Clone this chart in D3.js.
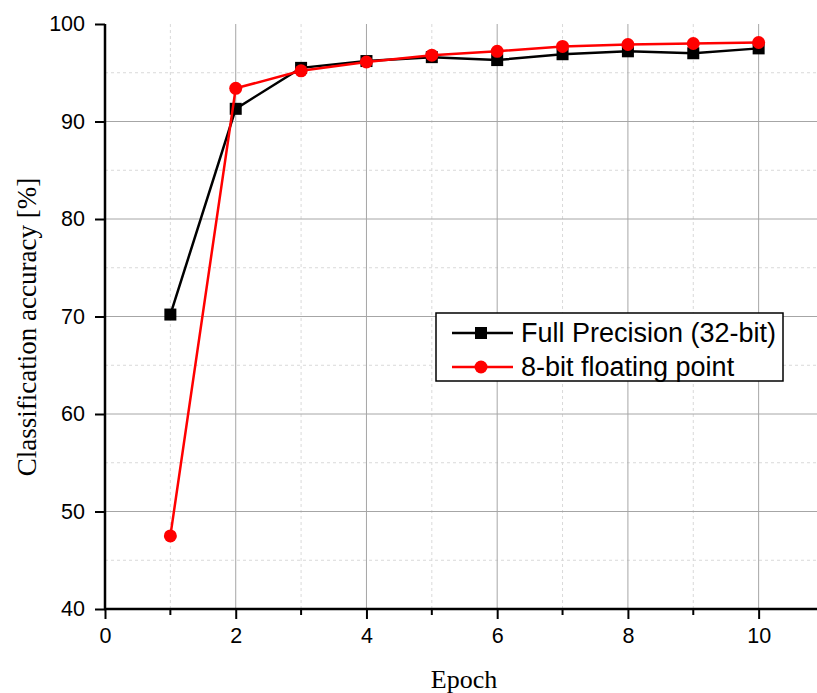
<!DOCTYPE html>
<html><head><meta charset="utf-8">
<script src="https://cdn.jsdelivr.net/npm/d3@7/dist/d3.min.js"></script>
<style>body{margin:0;background:#fff}svg{display:block}</style>
</head><body><svg id="c" width="817" height="693"></svg>
<script>
const epochs = [1,2,3,4,5,6,7,8,9,10];
const fullPrecision = [70.2,91.3,95.5,96.2,96.6,96.3,96.9,97.2,97.0,97.5];
const eightBit = [47.5,93.4,95.2,96.1,96.8,97.2,97.7,97.9,98.0,98.1];
const xTicks = [0,2,4,6,8,10];
const yTicks = [40,50,60,70,80,90,100];
const seriesNames = ["Full Precision (32-bit)","8-bit floating point"];

const svg = d3.select("#c");
const x = d3.scaleLinear().domain([0,11]).range([105,824]);
const y = d3.scaleLinear().domain([40,100]).range([609,24]);
const sans = "Liberation Sans, Arial, sans-serif";
const serif = "Liberation Serif, Times New Roman, serif";

const g = svg.append("g");
// minor grid
g.selectAll(".vmin").data([1,3,5,7,9,11]).join("line")
  .attr("x1",d=>x(d)).attr("x2",d=>x(d)).attr("y1",y(40)).attr("y2",y(100))
  .attr("stroke","#d9d9d9").attr("stroke-dasharray","3,3");
g.selectAll(".hmin").data([45,55,65,75,85,95]).join("line")
  .attr("x1",x(0)).attr("x2",817).attr("y1",d=>y(d)).attr("y2",d=>y(d))
  .attr("stroke","#d9d9d9").attr("stroke-dasharray","3,3");
// major grid
g.selectAll(".vmaj").data([2,4,6,8,10]).join("line")
  .attr("x1",d=>x(d)).attr("x2",d=>x(d)).attr("y1",y(40)).attr("y2",y(100))
  .attr("stroke","#a6a6a6").attr("stroke-width",1);
g.selectAll(".hmaj").data([50,60,70,80,90]).join("line")
  .attr("x1",x(0)).attr("x2",817).attr("y1",d=>y(d)).attr("y2",d=>y(d))
  .attr("stroke","#a6a6a6").attr("stroke-width",1);

// axes
const xAxis = d3.axisBottom(x).tickValues(xTicks).tickSize(10).tickPadding(9).tickFormat(d3.format("d"));
const xa = svg.append("g").attr("transform",`translate(0,${y(40)})`).call(xAxis);
xa.select(".domain").remove();
xa.append("line").attr("x1",x(0)-1).attr("x2",817).attr("stroke","#000").attr("stroke-width",2.5);
xa.selectAll(".tick line").attr("stroke-width",2);
xa.selectAll(".tick text").attr("font-family",sans).attr("font-size",21.5).attr("fill","#000");
svg.append("g").selectAll("line").data([1,3,5,7,9]).join("line")
  .attr("x1",d=>x(d)).attr("x2",d=>x(d)).attr("y1",y(40)).attr("y2",y(40)+6)
  .attr("stroke","#000").attr("stroke-width",2);

const yAxis = d3.axisLeft(y).tickValues(yTicks).tickSize(10).tickPadding(10);
const ya = svg.append("g").attr("transform",`translate(${x(0)},0)`).call(yAxis);
ya.select(".domain").remove();
ya.append("line").attr("y1",y(100)).attr("y2",y(40)+1).attr("stroke","#000").attr("stroke-width",2.5);
ya.selectAll(".tick line").attr("stroke-width",2);
ya.selectAll(".tick text").attr("font-family",sans).attr("font-size",21.5).attr("fill","#000");

// titles
svg.append("text").attr("x",464).attr("y",688).attr("text-anchor","middle")
  .attr("font-family",serif).attr("font-size",26).text("Epoch");
svg.append("text").attr("transform",`translate(36,${327}) rotate(-90)`).attr("text-anchor","middle")
  .attr("font-family",serif).attr("font-size",27).text("Classification accuracy [%]");

// lines
const line = d3.line().x((d,i)=>x(epochs[i])).y(d=>y(d));
svg.append("path").attr("d",line(fullPrecision)).attr("fill","none").attr("stroke","#000").attr("stroke-width",2.5);
svg.append("g").selectAll("rect").data(fullPrecision).join("rect")
  .attr("x",(d,i)=>x(epochs[i])-6).attr("y",d=>y(d)-6).attr("width",12).attr("height",12).attr("fill","#000");
svg.append("path").attr("d",line(eightBit)).attr("fill","none").attr("stroke","#ff0000").attr("stroke-width",2.5);
svg.append("g").selectAll("circle").data(eightBit).join("circle")
  .attr("cx",(d,i)=>x(epochs[i])).attr("cy",d=>y(d)).attr("r",6.5).attr("fill","#ff0000");

// legend
const lg = svg.append("g");
lg.append("rect").attr("x",436).attr("y",313).attr("width",347).attr("height",68)
  .attr("fill","#fff").attr("stroke","#000").attr("stroke-width",1.5);
lg.append("line").attr("x1",452).attr("x2",513).attr("y1",333).attr("y2",333).attr("stroke","#000").attr("stroke-width",2.5);
lg.append("rect").attr("x",481-6).attr("y",333-6).attr("width",12).attr("height",12).attr("fill","#000");
lg.append("line").attr("x1",452).attr("x2",513).attr("y1",367).attr("y2",367).attr("stroke","#ff0000").attr("stroke-width",2.5);
lg.append("circle").attr("cx",481).attr("cy",367).attr("r",6.5).attr("fill","#ff0000");
lg.selectAll("text").data(seriesNames).join("text")
  .attr("x",521).attr("y",(d,i)=>333+i*34).attr("dy","0.35em")
  .attr("font-family",sans).attr("font-size",27).text(d=>d);
</script></body></html>
